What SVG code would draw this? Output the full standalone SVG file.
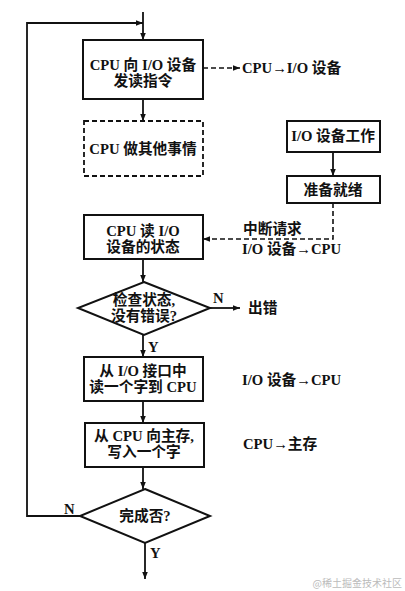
<svg xmlns="http://www.w3.org/2000/svg" width="405" height="591" viewBox="0 0 405 591">
<defs>
<marker id="ah" viewBox="0 0 10 10" refX="10" refY="5" markerWidth="7" markerHeight="7" markerUnits="userSpaceOnUse" orient="auto"><path d="M0,1 L10,5 L0,9 z" fill="#111"/></marker>
<style>
.box{fill:#fff;stroke:#111;stroke-width:2}
.dbox{fill:#fff;stroke:#111;stroke-width:1.8;stroke-dasharray:5 3}
.ln{fill:none;stroke:#111;stroke-width:1.8}
.dl{fill:none;stroke:#111;stroke-width:1.6;stroke-dasharray:5 3}
text{font-family:"Liberation Serif","Noto Sans CJK SC",serif;font-weight:bold;font-size:14.7px;fill:#111}
.c{text-anchor:middle}
.wm{font-family:"Noto Sans CJK SC",sans-serif;font-weight:normal;font-size:10px;fill:#bbb}
</style>
</defs>
<rect width="405" height="591" fill="#fff"/>
<g id="connectors">
<path class="ln" d="M143,12 V40" marker-end="url(#ah)"/>
<path class="ln" d="M80,516 H27 V23 H143" marker-end="url(#ah)"/>
<path class="ln" d="M143,99 V121" marker-end="url(#ah)"/>
<path class="dl" d="M203,68 H240" marker-end="url(#ah)"/>
<path class="ln" d="M333,152 V176" marker-end="url(#ah)"/>
<path class="dl" d="M333,203 V239 H203" marker-end="url(#ah)"/>
<path class="ln" d="M143,259 V282" marker-end="url(#ah)"/>
<path class="ln" d="M210,308 H240" marker-end="url(#ah)"/>
<path class="ln" d="M143,335 V357" marker-end="url(#ah)"/>
<path class="ln" d="M143,401 V423" marker-end="url(#ah)"/>
<path class="ln" d="M143,467 V489" marker-end="url(#ah)"/>
<path class="ln" d="M145,543 V579" marker-end="url(#ah)"/>
</g>
<g id="n1"><rect class="box" x="83" y="40" width="120" height="59"/>
<text class="c" x="143" y="70">CPU 向 I/O 设备</text><text class="c" x="143" y="86">发读指令</text></g>
<g id="l1"><text x="242" y="73">CPU→I/O 设备</text></g>
<g id="n2"><rect class="dbox" x="84" y="121" width="119" height="55"/>
<text class="c" x="143" y="154">CPU 做其他事情</text></g>
<g id="n3"><rect class="box" x="287" y="121" width="93" height="31"/>
<text class="c" x="333" y="141">I/O 设备工作</text></g>
<g id="n4"><rect class="box" x="287" y="176" width="93" height="27"/>
<text class="c" x="333" y="195">准备就绪</text></g>
<g id="l2"><text x="243" y="234">中断请求</text><text x="242" y="254">I/O 设备→CPU</text></g>
<g id="n5"><rect class="box" x="84" y="215" width="119" height="44"/>
<text class="c" x="143" y="236">CPU 读 I/O</text><text class="c" x="143" y="252">设备的状态</text></g>
<g id="n6"><polygon class="box" points="144,282 210,308 144,335 78,308"/>
<text class="c" x="144" y="305">检查状态,</text><text class="c" x="144" y="321">没有错误?</text></g>
<g id="l3"><text x="213" y="303">N</text><text x="248" y="313">出错</text><text x="148" y="352">Y</text></g>
<g id="n7"><rect class="box" x="84" y="357" width="119" height="44"/>
<text class="c" x="143" y="376">从 I/O 接口中</text><text class="c" x="143" y="392">读一个字到 CPU</text></g>
<g id="l4"><text x="242" y="385">I/O 设备→CPU</text></g>
<g id="n8"><rect class="box" x="85" y="423" width="119" height="44"/>
<text class="c" x="144" y="441">从 CPU 向主存,</text><text class="c" x="144" y="457">写入一个字</text></g>
<g id="l5"><text x="243" y="449">CPU→主存</text></g>
<g id="n9"><polygon class="box" points="145,489 210,516 145,543 80,516"/>
<text class="c" x="145" y="521">完成否?</text></g>
<g id="l6"><text x="64" y="514">N</text><text x="150" y="558">Y</text></g>
<text class="wm" x="402" y="587" text-anchor="end">@稀土掘金技术社区</text>
</svg>
